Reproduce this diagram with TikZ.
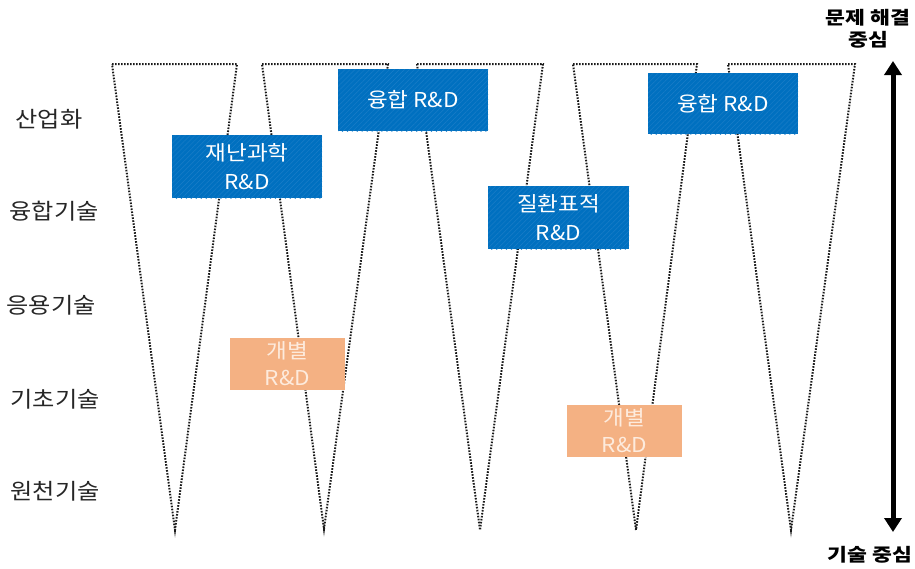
\documentclass[tikz,border=0pt]{standalone}
\usepackage{fontspec}
\setmainfont{Noto Sans CJK KR}[FakeStretch=1.1]
\newfontfamily\axfont{Noto Sans CJK KR}[FakeStretch=1.2]
\usetikzlibrary{arrows.meta,patterns.meta}
\definecolor{dblue}{HTML}{0070C0}
\definecolor{hblue}{HTML}{1A7DC8}
\definecolor{peach}{HTML}{F4B183}
\definecolor{peachtxt}{HTML}{FDEBDD}
\definecolor{dotc}{HTML}{1A1A1A}
\begin{document}
\begin{tikzpicture}[x=1pt,y=-1pt,
  tri/.style={draw=dotc, line width=2pt, dash pattern=on 1.6pt off 1.4pt},
  bluebox/.style={fill=dblue, postaction={pattern={Lines[angle=45,distance=3.5pt,line width=0.5pt]}, pattern color=hblue}, text=white, inner sep=0pt, align=center, font=\fontsize{20.5}{29}\selectfont},
  peachbox/.style={fill=peach, text=peachtxt, inner sep=0pt, align=center, font=\fontsize{20.5}{27}\selectfont},
  lvl/.style={font=\fontsize{22}{26}\selectfont, text=black!85, inner sep=0pt},
  axlbl/.style={font=\axfont\bfseries\fontsize{18}{22}\selectfont, inner sep=0pt}]
\useasboundingbox (0,0) rectangle (915,568);

% inverted triangles
\draw[tri] (112,64) -- (237,64) -- (175,530) -- cycle;
\draw[tri] (262,64) -- (388,64) -- (324,529) -- cycle;
\draw[tri] (417,64) -- (543,64) -- (480,530) -- cycle;
\draw[tri] (573,64) -- (697,64) -- (636,530) -- cycle;
\draw[tri] (728,64) -- (855,64) -- (791,530) -- cycle;

% boxes
\node[bluebox, minimum width=150pt, minimum height=63pt] (b1) at (247,166.5) {재난과학\\R\&D};
\node[bluebox, minimum width=150pt, minimum height=62pt] (b2) at (413,100) {융합 R\&D};
\node[bluebox, minimum width=150pt, minimum height=61pt] (b3) at (723,103.5) {융합 R\&D};
\node[bluebox, minimum width=141pt, minimum height=63pt] (b4) at (558.5,217.5) {질환표적\\R\&D};
\node[peachbox, minimum width=115pt, minimum height=52pt] (p1) at (287.5,364) {개별\\R\&D};
\node[peachbox, minimum width=115pt, minimum height=52pt] (p2) at (624.5,431) {개별\\R\&D};

% level labels
\node[lvl] (l1) at (49,119) {산업화};
\node[lvl] (l2) at (54,211) {융합기술};
\node[lvl] (l3) at (51,305) {응용기술};
\node[lvl] (l4) at (55,399) {기초기술};
\node[lvl] (l5) at (55,491) {원천기술};

% axis
\coordinate (atop) at (893,61);
\coordinate (abot) at (893,532);
\draw[line width=5pt, {Triangle[width=17pt,length=14pt]}-{Triangle[width=17pt,length=14pt]}] (atop) -- (abot);
\node[axlbl] (t1) at (868,18) {문제 해결};
\node[axlbl] (t2) at (868,40) {중심};
\node[axlbl] (t3) at (870,555) {기술 중심};
\end{tikzpicture}
\end{document}
